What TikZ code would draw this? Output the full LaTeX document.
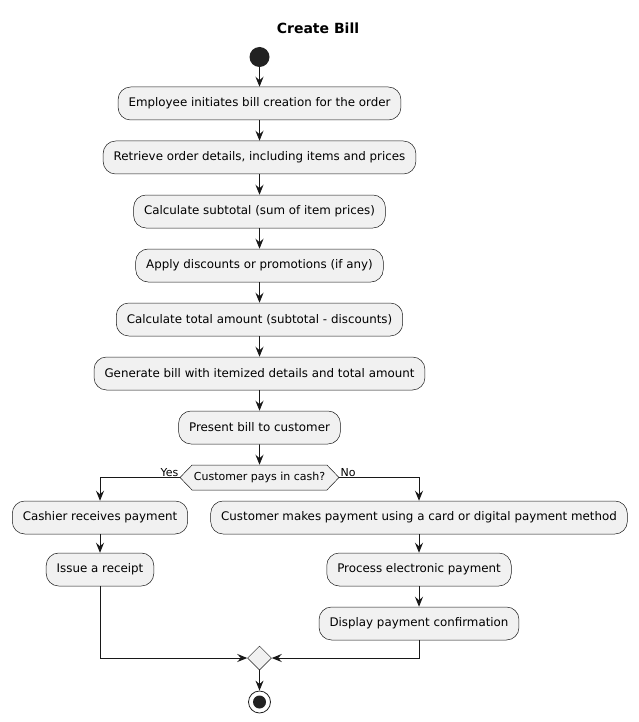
\documentclass[tikz,border=0pt]{standalone}
\usepackage{fontspec}
\setmainfont{DejaVu Sans}
\usetikzlibrary{arrows.meta,shapes.geometric,shapes.symbols}
\definecolor{boxfill}{HTML}{F1F1F1}
\definecolor{linecol}{HTML}{181818}
\definecolor{dotcol}{HTML}{222222}
\tikzstyle{action}=[rectangle,rounded corners=12.5pt,fill=boxfill,draw=linecol,line width=0.5pt,minimum height=33pt,inner xsep=10.5pt,font=\fontsize{11.85}{14}\selectfont]
\tikzstyle{choice}=[signal,signal to=east and west,signal pointer angle=92,fill=boxfill,draw=linecol,line width=0.5pt,minimum height=25pt,minimum width=159pt,inner xsep=0pt,font=\fontsize{11}{13}\selectfont]
\tikzstyle{merge}=[diamond,fill=boxfill,draw=linecol,line width=0.5pt,minimum size=24pt,inner sep=0pt]
\tikzstyle{startdot}=[circle,fill=dotcol,minimum size=20pt,inner sep=0pt]
\tikzstyle{stopdot}=[circle,draw=dotcol,line width=0.8pt,minimum size=22pt,inner sep=0pt,path picture={\fill[dotcol] (path picture bounding box.center) circle (6.5pt);}]
\tikzstyle{flow}=[draw=linecol,line width=0.9pt,-{Stealth[length=10pt,width=8pt,inset=3.5pt]}]
\tikzstyle{guard}=[font=\fontsize{11}{13}\selectfont,inner sep=1pt]

\begin{document}
\begin{tikzpicture}[x=1pt,y=-1pt]
\useasboundingbox (0,0) rectangle (638,722);

\node[font=\bfseries\fontsize{14}{16}\selectfont] (title) at (318,28) {Create Bill};

%Main column
    \node[startdot] (start) at (259.5,57) {};

    \foreach \pos/\name/\label in {{(259.5,103.5)/init/Employee initiates bill creation for the order},
        {(259.5,157.5)/fetch/Retrieve order details, including items and prices},
        {(259.5,211.5)/subtotal/Calculate subtotal (sum of item prices)},
        {(259.5,265.5)/discount/Apply discounts or promotions (if any)},
        {(259.5,319.5)/total/Calculate total amount (subtotal - discounts)},
        {(259.5,373.5)/generate/Generate bill with itemized details and total amount},
        {(259.5,427.5)/present/Present bill to customer}}
        \node[action] (\name) at \pos {\label};

    \node[choice] (cash) at (259.5,477.5) {Customer pays in cash?};

  \foreach \source/ \dest in {start/init, init/fetch, fetch/subtotal, subtotal/discount, discount/total, total/generate, generate/present, present/cash}
          \draw[flow] (\source) -- (\dest);

%Cash branch
    \foreach \pos/\name/\label in {{(100,517.5)/cashier/Cashier receives payment}, {(100,569.5)/receipt/Issue a receipt}}
        \node[action] (\name) at \pos {\label};

%Card branch
    \foreach \pos/\name/\label in {{(419,517.5)/card/Customer makes payment using a card or digital payment method},
        {(419,569.5)/process/Process electronic payment},
        {(419,623.5)/confirm/Display payment confirmation}}
        \node[action] (\name) at \pos {\label};

  \draw[flow] (cash.west) -| (cashier);
  \draw[flow] (cash.east) -| (card);
  \foreach \source/ \dest in {cashier/receipt, card/process, process/confirm}
          \draw[flow] (\source) -- (\dest);

\node[guard,anchor=south east] (yes) at (cash.west) {Yes};
\node[guard,anchor=south west] (no) at (cash.east) {No};

%Merge and end
    \node[merge] (join) at (259.5,658) {};
    \node[stopdot] (stop) at (259.5,702) {};

  \draw[flow] (receipt) |- (join);
  \draw[flow] (confirm) |- (join);
  \draw[flow] (join) -- (stop);

\end{tikzpicture}
\end{document}
